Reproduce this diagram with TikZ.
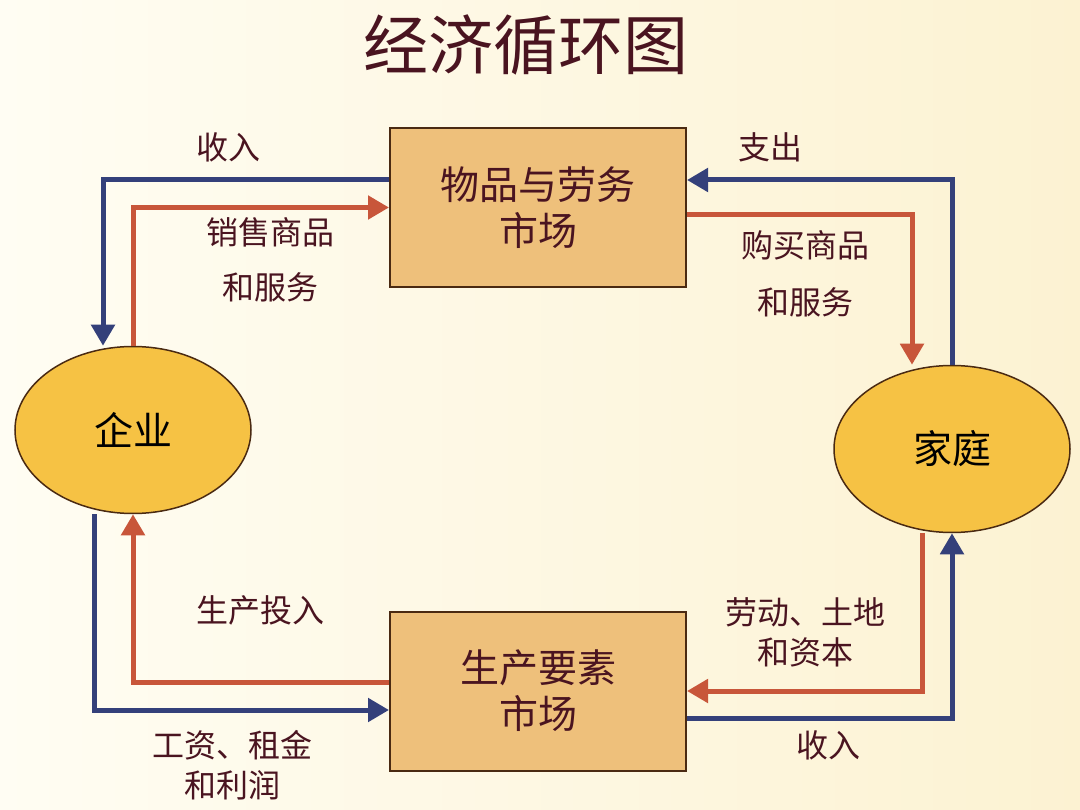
\documentclass[tikz,border=0pt]{standalone}
\usepackage{fontspec}
\newfontfamily\cjk{Noto Sans CJK SC}
\usetikzlibrary{arrows.meta,shapes.geometric}
\definecolor{bgleft}{HTML}{FFFDF3}
\definecolor{bgright}{HTML}{FCF2D2}
\definecolor{boxfill}{HTML}{EEC07B}
\definecolor{ovalfill}{HTML}{F6C244}
\definecolor{edge}{HTML}{4A2A12}
\definecolor{ink}{HTML}{4A1420}
\definecolor{flowblue}{HTML}{34407A}
\definecolor{flowred}{HTML}{C8563A}
\begin{document}
\begin{tikzpicture}[x=1pt,y=-1pt]
	\tikzstyle{market}=[rectangle,draw=edge,line width=2pt,fill=boxfill,minimum width=296pt,minimum height=159pt,inner sep=0pt,align=center,text=ink,font=\cjk\fontsize{39}{46}\selectfont]
	\tikzstyle{agent}=[ellipse,draw=edge,line width=1.5pt,fill=ovalfill,minimum width=236pt,minimum height=167pt,inner sep=0pt,font=\cjk\fontsize{39}{40}\selectfont]
	\tikzstyle{tag}=[align=center,text=ink,font=\cjk\fontsize{32}{55}\selectfont]
	\tikzstyle{money}=[draw=flowblue,line width=5pt,-{Triangle[length=21pt,width=23pt]}]
	\tikzstyle{goods}=[draw=flowred,line width=5pt,-{Triangle[length=21pt,width=23pt]}]
	\shade[left color=bgleft,right color=bgright] (0,0) rectangle (1080,810);
	\useasboundingbox (0,0) rectangle (1080,810);
	\node[text=ink,font=\cjk\fontsize{65}{70}\selectfont] (title) at (526,45) {经济循环图};
	\node[market] (goodsmkt) at (538,207.5) {物品与劳务\\市场};
	\node[market] (factormkt) at (538,691) {生产要素\\市场};
	\node[agent] (firm) at (133,430) {企业};
	\node[agent] (home) at (952,449) {家庭};
	% flows round the goods market
	\draw[money] ([yshift=27.5pt]goodsmkt.west) -| ([xshift=-30pt]firm.north);
	\draw[goods] (firm.north) |- (goodsmkt.west);
	\draw[money] (home.north) |- ([yshift=27.5pt]goodsmkt.east);
	\draw[goods] ([yshift=-7.5pt]goodsmkt.east) -| ([xshift=-40pt]home.north);
	% flows round the factor market
	\draw[goods] ([yshift=9pt]factormkt.west) -| (firm.south);
	\draw[money] ([xshift=-39pt]firm.south) |- ([yshift=-19pt]factormkt.west);
	\draw[goods] ([xshift=-30pt]home.south) |- (factormkt.east);
	\draw[money] ([yshift=-27pt]factormkt.east) -| (home.south);
	% labels
	\node[tag] (l1) at (228,147) {收入};
	\node[tag] (l2) at (270,259.5) {销售商品\\和服务};
	\node[tag] (l3) at (770,147) {支出};
	\node[tag,font=\cjk\fontsize{32}{57}\selectfont] (l4) at (805,273.5) {购买商品\\和服务};
	\node[tag] (l5) at (260,610) {生产投入};
	\node[tag,font=\cjk\fontsize{32}{40}\selectfont] (l6) at (232,765) {工资、租金\\和利润};
	\node[tag,font=\cjk\fontsize{32}{40}\selectfont] (l7) at (805,632) {劳动、土地\\和资本};
	\node[tag] (l8) at (828,745) {收入};
\end{tikzpicture}
\end{document}
